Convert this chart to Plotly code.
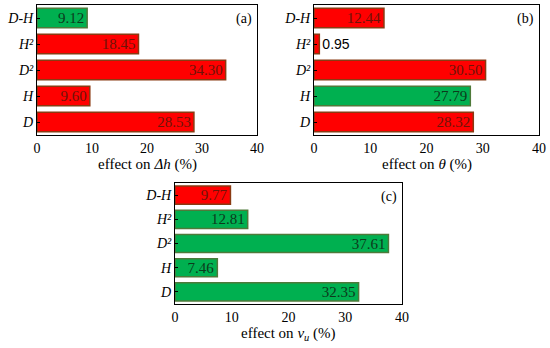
import plotly.graph_objects as go

categories = ["D", "H", "D²", "H²", "D-H"]
tick_text = ["<i>D</i>", "<i>H</i>", "<i>D²</i>", "<i>H²</i>", "<i>D-H</i>"]

vals_a = [28.53, 9.60, 34.30, 18.45, 9.12]
sign_a = ["r", "r", "r", "r", "g"]
vals_b = [28.32, 27.79, 30.50, 0.95, 12.44]
sign_b = ["r", "g", "r", "r", "r"]
vals_c = [32.35, 7.46, 37.61, 12.81, 9.77]
sign_c = ["g", "g", "g", "g", "r"]

x_ticks = [0, 10, 20, 30, 40]
titles = ["effect on <i>Δh</i> (%)", "effect on <i>θ</i> (%)", "effect on <i>v<sub>u</sub></i> (%)"]
panel_labels = ["(a)", "(b)", "(c)"]

RED = "#FF0000"
GREEN = "#00B050"
EDGE = {"r": "#8a3a12", "g": "#4e7a3a"}
TXT = {"r": "#6e1408", "g": "#0c3a1c"}
FONT = "Liberation Serif"
SANS = "Liberation Sans"

W, H = 550, 348
fig = go.Figure()

# pixel boxes: (left, right, top, bottom)
boxes = [(37, 257, 5, 135), (314, 539, 5, 135), (175, 402, 183, 304)]
title_y = [164, 164, 334]

for i, ((vals, signs), (l, r, t, b)) in enumerate(zip(
        [(vals_a, sign_a), (vals_b, sign_b), (vals_c, sign_c)], boxes)):
    sfx = "" if i == 0 else str(i + 1)
    xd = [l / W, r / W]
    yd = [1 - b / H, 1 - t / H]
    positions = ["outside" if v < 3 else "inside" for v in vals]
    tcolors = ["#000000" if v < 3 else TXT[s] for v, s in zip(vals, signs)]
    fig.add_trace(go.Bar(
        y=categories, x=vals, orientation="h",
        xaxis="x" + sfx, yaxis="y" + sfx,
        marker=dict(color=[RED if s == "r" else GREEN for s in signs],
                    line=dict(color=[EDGE[s] for s in signs], width=1.5)),
        width=0.75,
        text=[f"{v:.2f}" for v in vals],
        textposition=positions,
        insidetextanchor="end",
        constraintext="none",
        textfont=dict(family=FONT, size=15, color=tcolors),
        insidetextfont=dict(family=FONT, size=15, color=tcolors),
        outsidetextfont=dict(family=SANS, size=14, color=tcolors),
        cliponaxis=False,
        showlegend=False,
        hoverinfo="skip",
    ))
    fig.update_layout(**{
        "xaxis" + sfx: dict(domain=xd, range=[0, 40], tickvals=x_ticks, showgrid=False,
                            zeroline=False, showline=True, mirror=True, linecolor="black",
                            linewidth=1, ticks="", anchor="y" + sfx, automargin=False,
                            tickfont=dict(family=FONT, size=14, color="black")),
        "yaxis" + sfx: dict(domain=yd, range=[-0.5, 4.5], type="category",
                            categoryorder="array", categoryarray=categories,
                            tickvals=categories, ticktext=tick_text, automargin=False,
                            showgrid=False, zeroline=False, showline=True, mirror=True,
                            linecolor="black", linewidth=1, ticks="inside", ticklen=3,
                            tickcolor="black", anchor="x" + sfx,
                            tickfont=dict(family=FONT, size=14, color="black")),
    })
    fig.add_annotation(text=panel_labels[i], xref="x" + sfx + " domain", yref="y" + sfx + " domain",
                       x=0.985, y=0.97, xanchor="right", yanchor="top", showarrow=False,
                       font=dict(family=FONT, size=14, color="black"))
    fig.add_annotation(text=titles[i], xref="paper", yref="paper",
                       x=(l + r) / 2 / W, y=1 - title_y[i] / H, xanchor="center", yanchor="middle",
                       showarrow=False, font=dict(family=FONT, size=15, color="black"))

fig.update_layout(width=W, height=H, margin=dict(l=0, r=0, t=0, b=0),
                  font=dict(family=FONT, color="black"),
                  paper_bgcolor="white", plot_bgcolor="white")

fig.write_html("out.html", config={"displayModeBar": False},
               post_script="document.body.style.margin='0px';")
